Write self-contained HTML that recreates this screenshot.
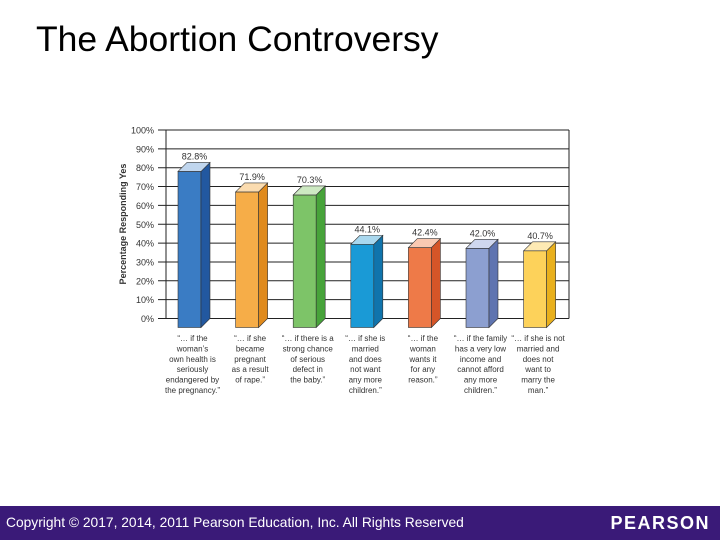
<!DOCTYPE html>
<html><head><meta charset="utf-8"><style>
body{margin:0;width:720px;height:540px;background:#fff;position:relative;overflow:hidden;font-family:"Liberation Sans",sans-serif}
#title{position:absolute;left:36px;top:19px;font-size:35.5px;color:#000}
#footer{position:absolute;left:0;top:506px;width:720px;height:34px;background:#3a1a78;color:#fff}
#copy{position:absolute;left:6px;top:9px;font-size:13.8px}
#logo{position:absolute;right:10px;top:7px;font-size:18px;letter-spacing:1.5px;font-weight:bold}
svg{position:absolute;left:0;top:0}
</style></head><body>
<div id="title">The Abortion Controversy</div>
<svg id="chart" width="720" height="540"></svg>
<div id="footer">
<div id="copy">Copyright © 2017, 2014, 2011 Pearson Education, Inc. All Rights Reserved</div>
<div id="logo">PEARSON</div>
</div>
<script>
const categories=[
["\u201C… if the","woman’s","own health is","seriously","endangered by","the pregnancy.\u201D"],
["\u201C… if she","became","pregnant","as a result","of rape.\u201D"],
["\u201C… if there is a","strong chance","of serious","defect in","the baby.\u201D"],
["\u201C… if she is","married","and does","not want","any more","children.\u201D"],
["\u201C… if the","woman","wants it","for any","reason.\u201D"],
["\u201C… if the family","has a very low","income and","cannot afford","any more","children.\u201D"],
["\u201C… if she is not","married and","does not","want to","marry the","man.\u201D"]];
const values=[82.8,71.9,70.3,44.1,42.4,42.0,40.7];
const valueLabels=["82.8%","71.9%","70.3%","44.1%","42.4%","42.0%","40.7%"];
const ticks=[0,10,20,30,40,50,60,70,80,90,100];
const colors=[["#3a7cc4","#2258a0","#c0d6ee"],["#f6ad48","#e08a1c","#fbdcb0"],["#7dc468","#47a33a","#cde9c2"],["#1a9ad6","#1074ac","#a9d8ef"],["#ee7a48","#d55528","#f9c9b2"],["#8c9fd0","#5f74b0","#cfd7ee"],["#fdd25a","#e9b01c","#feeab4"]];
const svg=document.getElementById('chart');const NS='http://www.w3.org/2000/svg';
const x0=166,x1=569,yTop=130,yBot=318.5,D=9,slot=57.6,bw=23,first=178;
const y=v=>yBot-(yBot-yTop)*v/100;
const xb=i=>first+i*slot;
function mk(t,a,txt){const e=document.createElementNS(NS,t);for(const k in a)e.setAttribute(k,a[k]);if(txt!=null)e.textContent=txt;svg.appendChild(e);return e;}
ticks.forEach(t=>{
const l=mk('line',{x1:158,x2:x1,y1:y(t),y2:y(t),stroke:'#222','stroke-width':1});


const tx=mk('text',{x:154,y:y(t)+3.5,'font-size':9,'text-anchor':'end',fill:'#333'},t+'%');


});
let ax=mk('line',{x1:x0,x2:x0,y1:yTop,y2:yBot,stroke:'#222'});


let ax2=mk('line',{x1:x1,x2:x1,y1:yTop,y2:yBot,stroke:'#222'});


let yt=mk('text',{x:0,y:0,'font-size':9,'font-weight':'bold','text-anchor':'middle',fill:'#333',transform:'translate(126,224) rotate(-90)'},'Percentage Responding Yes');


values.forEach((v,i)=>{
const x=xb(i),top=y(v)+D,bot=yBot+D,c=colors[i];
const g=document.createElementNS(NS,'g');svg.appendChild(g);


const add=(t,a)=>{const e=document.createElementNS(NS,t);for(const k in a)e.setAttribute(k,a[k]);g.appendChild(e);};
add('rect',{x:x,y:top,width:bw,height:bot-top,fill:c[0],stroke:'#333','stroke-width':0.6});
add('polygon',{points:`${x+bw},${top} ${x+bw+D},${top-D} ${x+bw+D},${bot-D} ${x+bw},${bot}`,fill:c[1],stroke:'#333','stroke-width':0.6});
add('polygon',{points:`${x},${top} ${x+D},${top-D} ${x+bw+D},${top-D} ${x+bw},${top}`,fill:c[2],stroke:'#333','stroke-width':0.6});
const vl=mk('text',{x:x+bw/2+5,y:top-D-3,'font-size':9,'text-anchor':'middle',fill:'#333'},valueLabels[i]);


const cl=mk('text',{x:x+bw/2+3,y:341,'font-size':8,'text-anchor':'middle',fill:'#333'});


categories[i].forEach((s,j)=>{const ts=document.createElementNS(NS,'tspan');ts.setAttribute('x',x+bw/2+3);ts.setAttribute('dy',j?10.4:0);ts.textContent=s;cl.appendChild(ts);});
});
</script>
</body></html>
